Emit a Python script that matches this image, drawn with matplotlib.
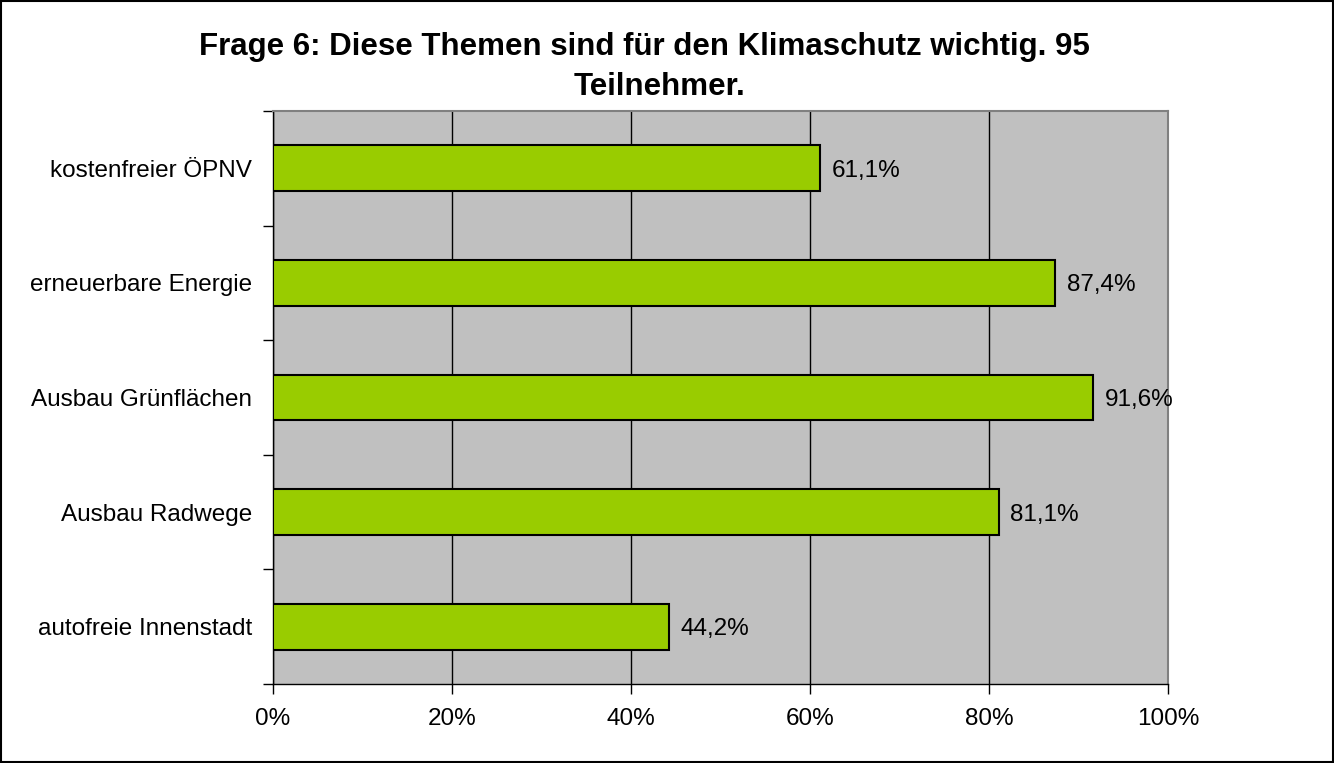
import matplotlib.pyplot as plt
import matplotlib.patches as mpatches
from matplotlib.ticker import FixedLocator, NullFormatter

# data (bottom to top, as in the chart)
categories = ['autofreie Innenstadt', 'Ausbau Radwege', 'Ausbau Grünflächen',
              'erneuerbare Energie', 'kostenfreier ÖPNV']
values = [44.2, 81.1, 91.6, 87.4, 61.1]
value_labels = ['44,2%', '81,1%', '91,6%', '87,4%', '61,1%']
xticks = [0, 20, 40, 60, 80, 100]
xtick_labels = ['0%', '20%', '40%', '60%', '80%', '100%']
title_lines = ['Frage 6: Diese Themen sind für den Klimaschutz wichtig. 95', 'Teilnehmer.']

plt.rcParams['font.family'] = ['Liberation Sans', 'DejaVu Sans']

fig = plt.figure(figsize=(13.34, 7.63), dpi=100)
ax = fig.add_axes([273/1334, 1-684/763, (1168-273)/1334, (684-111)/763])
ax.set_facecolor('#c0c0c0')

ypos = list(range(len(categories)))
ax.barh(ypos, values, height=0.4, color='#99cc00', edgecolor='black', linewidth=1.5, zorder=3)
for y, v, lab in zip(ypos, values, value_labels):
    ax.text(v + 1.3, y, lab, va='center_baseline', ha='left', fontsize=17.5, zorder=4)

ax.set_xlim(0, 100)
ax.set_ylim(-0.5, len(categories) - 0.5)
ax.set_xticks(xticks)
ax.set_xticklabels(xtick_labels, fontsize=17.5)
ax.xaxis.grid(True, color='black', linewidth=1, zorder=1)
ax.set_axisbelow(True)

# category labels centered, ticks between categories
ax.set_yticks(ypos)
ax.set_yticklabels(categories, fontsize=17.5)
ax.tick_params(axis='y', which='major', length=0, pad=15)
ax.yaxis.set_minor_locator(FixedLocator([i - 0.5 for i in range(len(categories) + 1)]))
ax.yaxis.set_minor_formatter(NullFormatter())
ax.tick_params(axis='y', which='minor', length=7, width=1, color='black')
ax.tick_params(axis='x', length=7, width=1, pad=10)

for s in ['top', 'right']:
    ax.spines[s].set_color('#808080')
    ax.spines[s].set_linewidth(1.5)
for s in ['left', 'bottom']:
    ax.spines[s].set_color('black')
    ax.spines[s].set_linewidth(1)

fig.text(644/1334, 1-47/763, title_lines[0], ha='center', va='center', fontsize=22.5, fontweight='bold')
fig.text(660/1334, 1-87/763, title_lines[1], ha='center', va='center', fontsize=22.5, fontweight='bold')

# outer border of the chart
fig.patches.append(mpatches.Rectangle((0.0008, 0.0013), 0.9984, 0.9974, transform=fig.transFigure,
                                      fill=False, edgecolor='black', linewidth=1.5))

plt.savefig('out.png', dpi=100)
